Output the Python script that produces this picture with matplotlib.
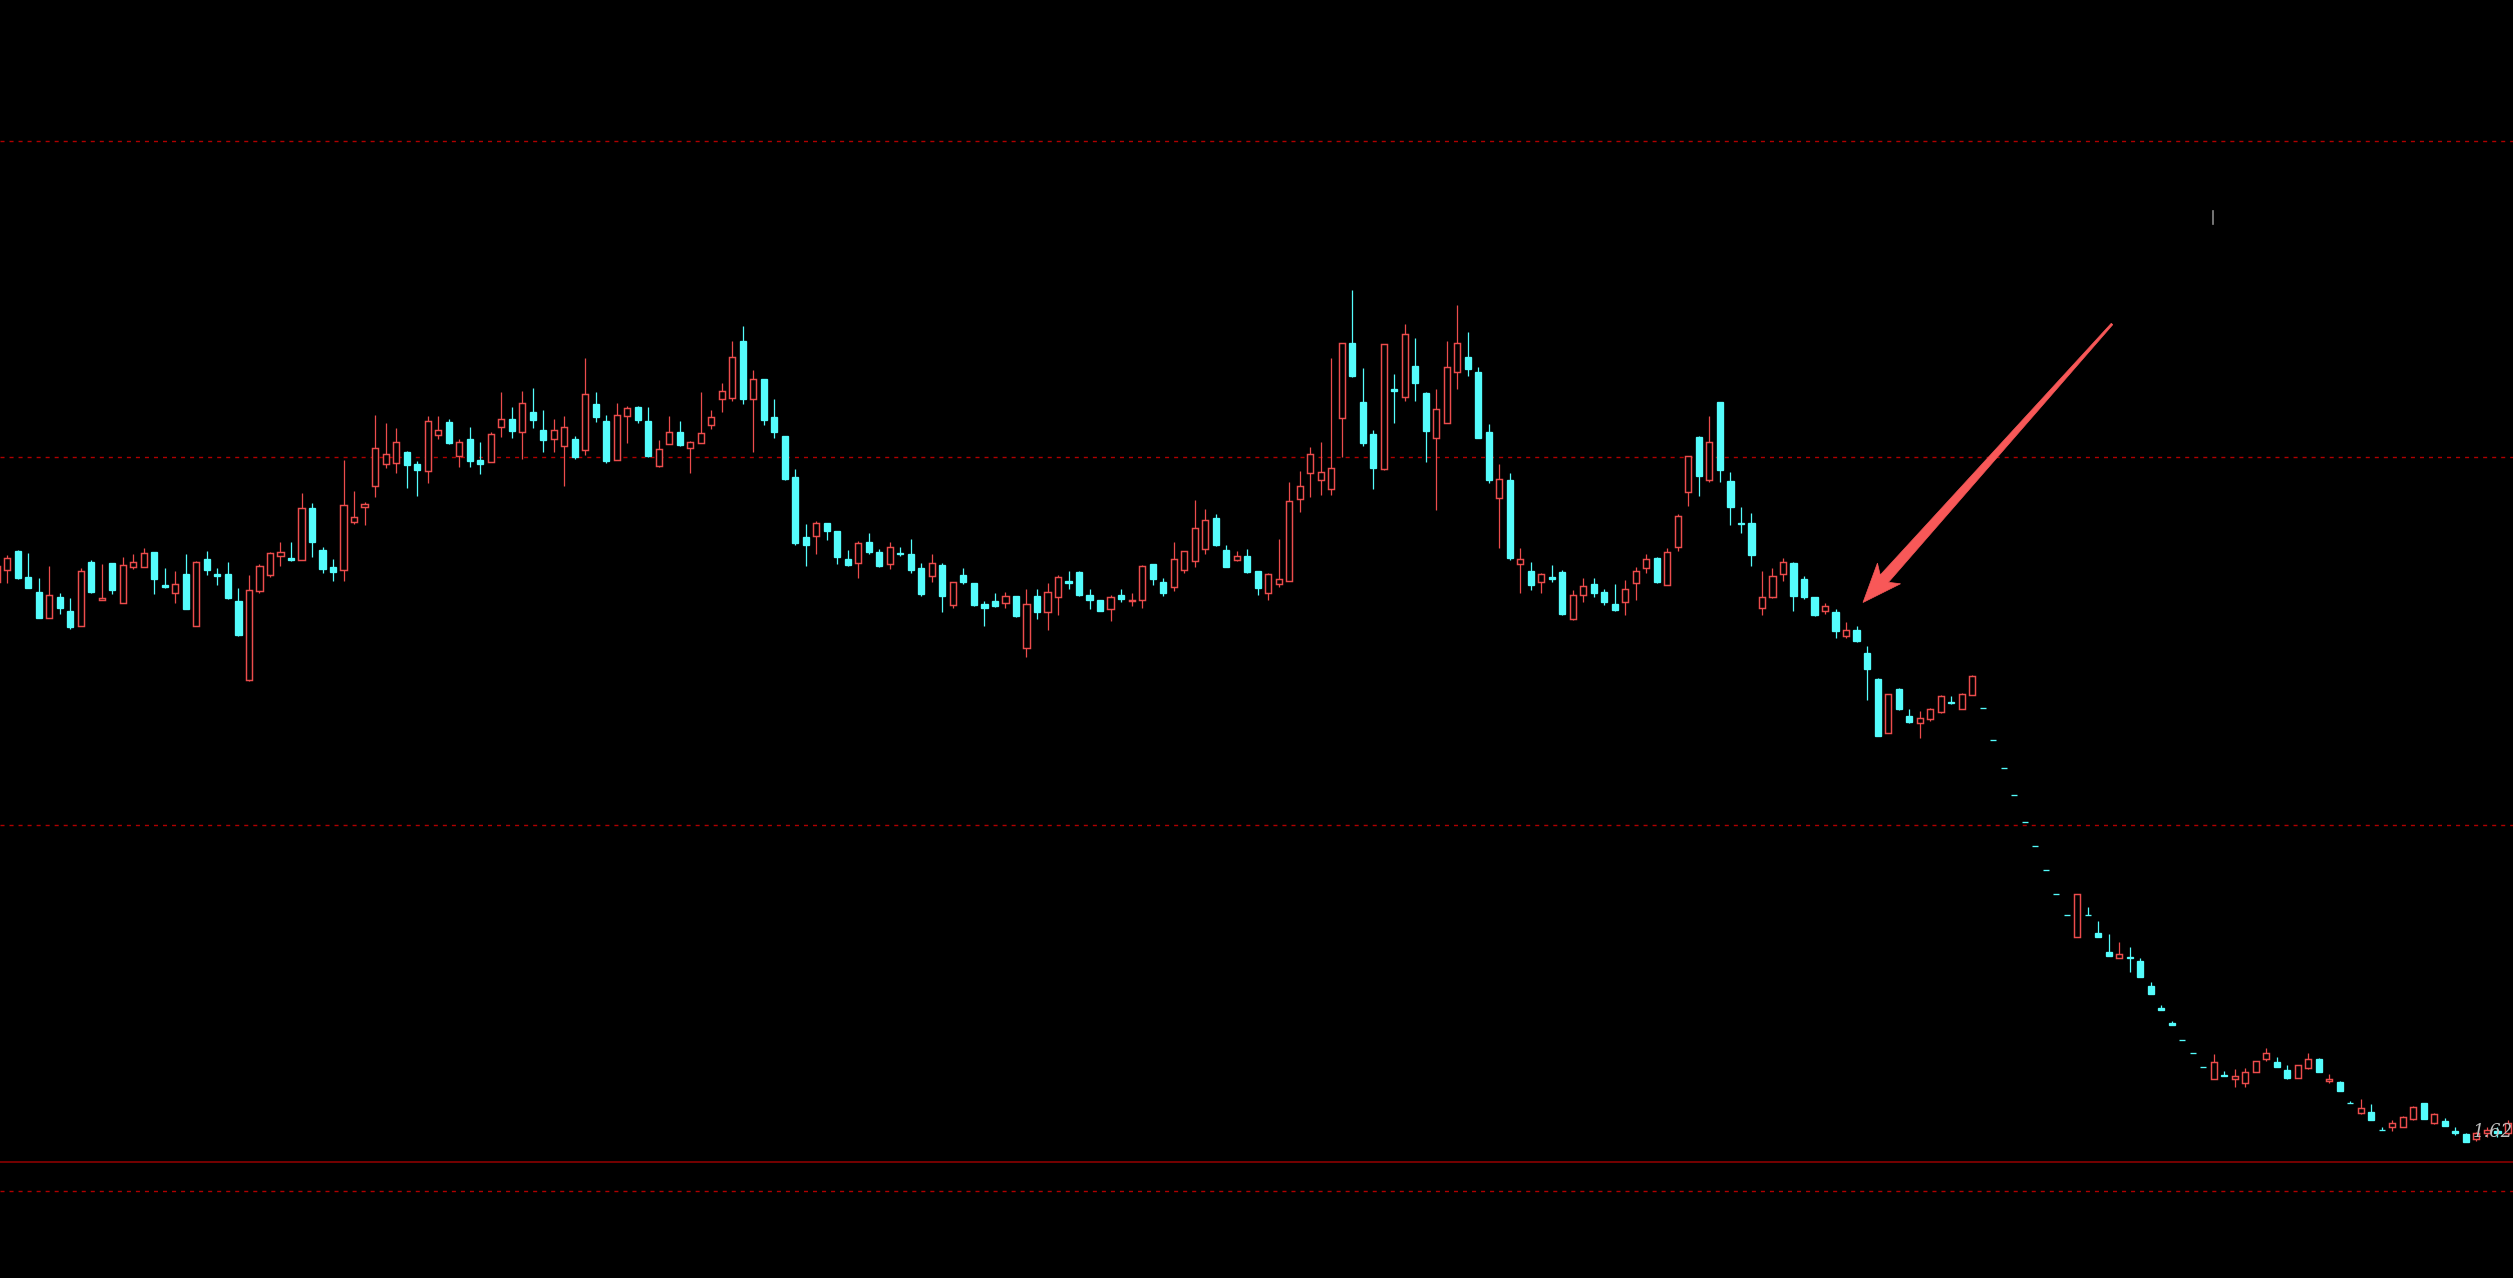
import numpy as np
import matplotlib
matplotlib.use("Agg")
import matplotlib.pyplot as plt
from matplotlib.patches import Polygon
from matplotlib.lines import Line2D

opens = [
    7.13, 7.25, 7.44, 7.18, 7.03, 6.77, 6.98, 6.84, 6.69, 7.33,
    6.95, 7.32, 6.92, 7.28, 7.28, 7.43, 7.10, 7.02, 7.21, 6.69,
    7.36, 7.21, 7.21, 6.94, 6.15, 7.04, 7.20, 7.39, 7.37, 7.35,
    7.87, 7.45, 7.28, 7.25, 7.73, 7.88, 8.09, 8.31, 8.32, 8.43,
    8.31, 8.24, 8.60, 8.73, 8.39, 8.56, 8.35, 8.33, 8.68, 8.76,
    8.63, 8.83, 8.65, 8.56, 8.49, 8.56, 8.45, 8.91, 8.74, 8.35,
    8.79, 8.88, 8.74, 8.29, 8.51, 8.63, 8.47, 8.52, 8.70, 8.96,
    8.97, 9.54, 8.96, 9.16, 8.78, 8.59, 8.18, 7.58, 7.59, 7.72,
    7.64, 7.36, 7.32, 7.53, 7.43, 7.31, 7.42, 7.41, 7.27, 7.19,
    7.30, 6.90, 7.20, 7.12, 6.91, 6.94, 6.92, 6.99, 6.47, 6.99,
    6.83, 6.98, 7.14, 7.23, 7.00, 6.95, 6.86, 7.00, 6.94, 6.95,
    7.31, 7.13, 7.08, 7.25, 7.34, 7.46, 7.77, 7.45, 7.35, 7.39,
    7.24, 7.02, 7.11, 7.14, 7.96, 8.22, 8.15, 8.06, 8.77, 9.52,
    8.93, 8.61, 8.26, 9.06, 8.98, 9.29, 9.02, 8.57, 8.72, 9.23,
    9.38, 9.23, 8.63, 7.97, 8.15, 7.31, 7.24, 7.13, 7.18, 7.23,
    6.76, 7.00, 7.11, 7.03, 6.91, 6.93, 7.12, 7.27, 7.37, 7.10,
    7.48, 8.03, 8.58, 8.15, 8.93, 8.14, 7.72, 7.72, 6.87, 6.98,
    7.21, 7.32, 7.16, 6.98, 6.84, 6.83, 6.59, 6.65, 6.42, 6.16,
    5.62, 6.06, 5.79, 5.72, 5.76, 5.83, 5.93, 5.86, 6.00, 5.87,
    5.55, 5.27, 5.00, 4.73, 4.49, 4.25, 4.01, 3.80, 3.58, 3.80,
    3.62, 3.43, 3.37, 3.38, 3.34, 3.09, 2.87, 2.72, 2.55, 2.42,
    2.28, 2.16, 2.20, 2.16, 2.12, 2.23, 2.36, 2.33, 2.25, 2.17,
    2.27, 2.36, 2.14, 2.13, 1.92, 1.82, 1.83, 1.65, 1.68, 1.68,
    1.76, 1.92, 1.72, 1.74, 1.64, 1.61, 1.56, 1.62, 1.64, 1.62,
]

closes = [
    7.29, 7.37, 7.17, 7.07, 6.77, 7.00, 6.87, 6.68, 7.24, 7.03,
    6.97, 7.05, 7.30, 7.33, 7.42, 7.16, 7.08, 7.11, 6.86, 7.33,
    7.25, 7.19, 6.97, 6.60, 7.05, 7.29, 7.42, 7.43, 7.35, 7.87,
    7.53, 7.26, 7.23, 7.90, 7.78, 7.91, 8.47, 8.41, 8.53, 8.30,
    8.25, 8.74, 8.65, 8.52, 8.53, 8.34, 8.31, 8.61, 8.76, 8.64,
    8.92, 8.75, 8.55, 8.65, 8.68, 8.38, 9.01, 8.78, 8.34, 8.80,
    8.87, 8.75, 8.39, 8.46, 8.63, 8.50, 8.53, 8.62, 8.78, 9.04,
    9.38, 8.96, 9.16, 8.75, 8.63, 8.16, 7.52, 7.50, 7.72, 7.64,
    7.38, 7.30, 7.52, 7.43, 7.29, 7.48, 7.41, 7.25, 7.01, 7.32,
    6.99, 7.13, 7.13, 6.90, 6.87, 6.89, 6.99, 6.79, 6.91, 6.83,
    7.03, 7.18, 7.12, 7.00, 6.95, 6.84, 6.98, 6.96, 6.95, 7.29,
    7.16, 7.02, 7.36, 7.44, 7.67, 7.75, 7.50, 7.28, 7.39, 7.23,
    7.07, 7.21, 7.16, 7.94, 8.09, 8.41, 8.23, 8.27, 9.52, 9.19,
    8.52, 8.27, 9.51, 9.04, 9.61, 9.12, 8.64, 8.86, 9.28, 9.52,
    9.26, 8.57, 8.15, 8.16, 7.37, 7.36, 7.10, 7.21, 7.16, 6.81,
    7.00, 7.09, 7.02, 6.93, 6.85, 7.06, 7.24, 7.36, 7.13, 7.43,
    7.79, 8.39, 8.19, 8.53, 8.25, 7.88, 7.71, 7.40, 6.98, 7.19,
    7.33, 6.99, 6.98, 6.80, 6.89, 6.64, 6.65, 6.54, 6.26, 5.59,
    6.01, 5.86, 5.73, 5.77, 5.86, 5.99, 5.92, 6.01, 6.19, 5.87,
    5.55, 5.27, 5.00, 4.73, 4.49, 4.25, 4.01, 3.80, 4.01, 3.80,
    3.58, 3.39, 3.41, 3.37, 3.18, 3.01, 2.85, 2.70, 2.55, 2.42,
    2.28, 2.33, 2.19, 2.19, 2.23, 2.34, 2.42, 2.28, 2.17, 2.30,
    2.36, 2.23, 2.16, 2.04, 1.92, 1.87, 1.75, 1.65, 1.72, 1.78,
    1.88, 1.76, 1.81, 1.69, 1.62, 1.53, 1.62, 1.65, 1.62, 1.72,
]

highs = [
    7.35, 7.40, 7.45, 7.42, 7.17, 7.29, 7.02, 6.97, 7.27, 7.35,
    7.31, 7.32, 7.38, 7.41, 7.47, 7.43, 7.27, 7.24, 7.41, 7.34,
    7.44, 7.27, 7.33, 7.07, 7.20, 7.31, 7.43, 7.53, 7.53, 8.02,
    7.92, 7.48, 7.36, 8.35, 8.04, 7.93, 8.80, 8.72, 8.67, 8.44,
    8.34, 8.79, 8.79, 8.76, 8.56, 8.68, 8.53, 8.63, 9.03, 8.88,
    9.04, 9.07, 8.85, 8.76, 8.79, 8.59, 9.37, 9.03, 8.80, 8.92,
    8.89, 8.89, 8.88, 8.55, 8.79, 8.74, 8.54, 9.03, 8.85, 9.12,
    9.54, 9.69, 9.25, 9.16, 8.96, 8.59, 8.26, 7.71, 7.74, 7.72,
    7.64, 7.45, 7.54, 7.62, 7.46, 7.53, 7.48, 7.56, 7.32, 7.41,
    7.32, 7.13, 7.27, 7.12, 6.94, 7.02, 7.03, 6.99, 7.06, 7.06,
    7.12, 7.20, 7.24, 7.24, 7.06, 6.95, 7.00, 7.06, 7.02, 7.30,
    7.31, 7.17, 7.53, 7.44, 7.95, 7.86, 7.81, 7.50, 7.44, 7.46,
    7.24, 7.22, 7.56, 8.13, 8.24, 8.48, 8.53, 9.37, 9.52, 10.05,
    9.27, 8.65, 9.51, 9.21, 9.71, 9.57, 9.03, 9.06, 9.54, 9.90,
    9.63, 9.28, 8.71, 8.31, 8.22, 7.47, 7.33, 7.22, 7.30, 7.25,
    7.05, 7.17, 7.17, 7.06, 7.11, 7.15, 7.28, 7.41, 7.38, 7.47,
    7.81, 8.39, 8.59, 8.79, 8.93, 8.23, 7.88, 7.82, 7.24, 7.27,
    7.37, 7.33, 7.19, 6.98, 6.92, 6.86, 6.73, 6.69, 6.49, 6.17,
    6.01, 6.07, 5.86, 5.84, 5.87, 6.00, 5.99, 6.02, 6.20, 5.87,
    5.55, 5.27, 5.00, 4.73, 4.49, 4.25, 4.01, 3.80, 4.01, 3.88,
    3.74, 3.61, 3.53, 3.48, 3.37, 3.13, 2.90, 2.74, 2.55, 2.42,
    2.28, 2.41, 2.24, 2.26, 2.27, 2.34, 2.47, 2.38, 2.30, 2.30,
    2.42, 2.37, 2.21, 2.14, 1.94, 1.96, 1.91, 1.68, 1.75, 1.79,
    1.89, 1.92, 1.82, 1.77, 1.68, 1.62, 1.63, 1.68, 1.68, 1.75,
]

lows = [
    7.10, 7.12, 7.16, 7.07, 6.77, 6.77, 6.81, 6.66, 6.69, 7.02,
    6.95, 7.01, 6.92, 7.26, 7.28, 7.01, 7.07, 6.92, 6.86, 6.69,
    7.20, 7.10, 6.96, 6.59, 6.14, 7.02, 7.18, 7.29, 7.34, 7.35,
    7.38, 7.22, 7.14, 7.14, 7.71, 7.70, 7.98, 8.27, 8.22, 8.07,
    7.99, 8.12, 8.56, 8.51, 8.28, 8.28, 8.21, 8.33, 8.58, 8.57,
    8.36, 8.67, 8.43, 8.43, 8.09, 8.36, 8.40, 8.73, 8.32, 8.35,
    8.52, 8.72, 8.38, 8.28, 8.51, 8.49, 8.22, 8.52, 8.66, 8.83,
    8.94, 8.91, 8.43, 8.70, 8.57, 8.15, 7.50, 7.29, 7.41, 7.55,
    7.31, 7.29, 7.17, 7.41, 7.28, 7.26, 7.39, 7.22, 6.99, 7.13,
    6.83, 6.87, 7.11, 6.89, 6.69, 6.88, 6.87, 6.78, 6.38, 6.76,
    6.65, 6.80, 7.06, 6.99, 6.86, 6.84, 6.74, 6.93, 6.89, 6.87,
    7.10, 6.99, 7.04, 7.22, 7.28, 7.41, 7.49, 7.28, 7.34, 7.22,
    7.00, 6.95, 7.08, 7.14, 7.83, 7.98, 8.00, 8.00, 8.38, 9.18,
    8.49, 8.06, 8.25, 8.72, 8.94, 8.94, 8.33, 7.85, 8.72, 9.06,
    9.19, 8.57, 8.12, 7.47, 7.35, 7.02, 7.05, 7.02, 7.13, 6.80,
    6.75, 6.93, 6.98, 6.90, 6.84, 6.80, 6.95, 7.22, 7.12, 7.10,
    7.44, 7.89, 7.99, 8.13, 8.13, 7.70, 7.62, 7.29, 6.80, 6.97,
    7.14, 6.84, 6.96, 6.79, 6.81, 6.57, 6.57, 6.53, 5.95, 5.59,
    5.62, 5.85, 5.72, 5.57, 5.74, 5.82, 5.91, 5.86, 6.00, 5.87,
    5.55, 5.27, 5.00, 4.73, 4.49, 4.25, 4.01, 3.80, 3.58, 3.80,
    3.58, 3.39, 3.37, 3.23, 3.18, 3.01, 2.85, 2.70, 2.55, 2.42,
    2.28, 2.16, 2.19, 2.08, 2.08, 2.23, 2.34, 2.28, 2.16, 2.17,
    2.26, 2.23, 2.12, 2.04, 1.92, 1.81, 1.75, 1.65, 1.64, 1.68,
    1.75, 1.76, 1.71, 1.69, 1.60, 1.53, 1.54, 1.58, 1.58, 1.60,
]

grid_levels = [11.54, 8.38, 4.70, 1.04]
base_level = 1.33
last_label = "1.62"

UP = "#EC4C4C"
DOWN = "#54FCFC"
GRID = "#B00000"
ARROW = "#F85858"

o = np.array(opens)
c = np.array(closes)
h = np.array(highs)
l = np.array(lows)
x = np.arange(len(o))
up = c > o

W, H = 2513, 1278
fig = plt.figure(figsize=(W / 100, H / 100), dpi=100, facecolor="black")
ax = fig.add_axes([0, 0, 1, 1])
ax.set_facecolor("black")
ax.set_axis_off()

step = 10.507
left = 3.2 / step
ax.set_xlim(left, left + W / step)
ax.set_ylim(0.17, 12.95)

plt.rcParams["lines.scale_dashes"] = False
for lv in grid_levels:
    ax.axhline(lv, color=GRID, lw=1.0, dashes=(2.9, 3.6), zorder=1)
ax.axhline(base_level, color="#960000", lw=1.1, zorder=1)

# wicks
ax.vlines(x[up], l[up], h[up], colors=UP, lw=0.9, zorder=2)
ax.vlines(x[~up], l[~up], h[~up], colors=DOWN, lw=0.9, zorder=2)

bw = 0.58
lo = np.minimum(o, c)
hi = np.maximum(o, c)
ax.bar(x[up], hi[up] - lo[up], bottom=lo[up], width=bw,
       facecolor="black", edgecolor=UP, linewidth=1.05, zorder=3)
ax.bar(x[~up], hi[~up] - lo[~up], bottom=lo[~up], width=bw,
       facecolor=DOWN, edgecolor=DOWN, linewidth=0.95, zorder=3)

# annotation arrow (pixel geometry -> figure fraction)
T = np.array([1863.0, 602.5])
A = np.array([2112.0, 324.0])
u = (T - A) / np.linalg.norm(T - A)
n = np.array([u[1], -u[0]])
pts = [
    T,
    T - 39 * u + 15.5 * n,
    T - 32 * u + 5.5 * n,
    A + 1.0 * n,
    A - 1.0 * n,
    T - 32 * u - 5.5 * n,
    T - 39 * u - 15.5 * n,
]
pts = [(p[0] / W, 1 - p[1] / H) for p in pts]
fig.patches.append(Polygon(pts, closed=True, facecolor=ARROW, edgecolor=ARROW,
                           lw=0.5, transform=fig.transFigure, zorder=10))

# small grey tick near top
fig.lines.append(Line2D([2213 / W, 2213 / W], [1 - 211 / H, 1 - 224 / H],
                        color="#8A8A8A", lw=1.2, transform=fig.transFigure))

fig.text(2473 / W, 1 - 1137 / H, last_label, color="#BEBEBE", fontsize=13,
         family="DejaVu Serif", style="italic", ha="left", va="baseline", zorder=11)

fig.savefig("out.png", dpi=100, facecolor="black")
